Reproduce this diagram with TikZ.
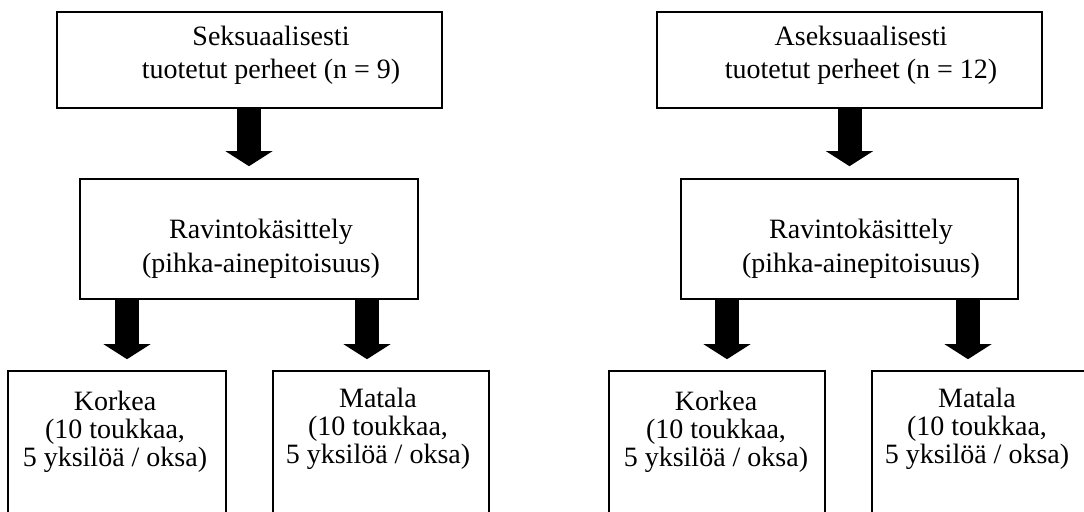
\documentclass[tikz,border=0pt]{standalone}
\usepackage{fontspec}
\setmainfont{Liberation Serif}
\usetikzlibrary{arrows.meta}

\begin{document}
\begin{tikzpicture}[x=0.5pt, y=-0.5pt,
	box/.style={draw, line width=0.8pt, inner sep=0pt},
	txt/.style={anchor=north, inner sep=0pt, align=center, font=\fontsize{14}{16.5}\selectfont},
	midtxt/.style={txt, font=\fontsize{14}{17}\selectfont},
	lowtxt/.style={txt, font=\fontsize{14}{14}\selectfont},
	bigarrow/.style={line width=12pt, -{Triangle[width=23.5pt, length=7.5pt, line width=0pt]}}]

	\useasboundingbox (0,0) rectangle (1084,512);
	\clip (0,0) rectangle (1084,512);

	% families
	\node[box, minimum width=192.5pt, minimum height=48pt] (sex) at (249.5,60) {};
	\node[box, minimum width=192.5pt, minimum height=48pt] (asex) at (849.5,60) {};
	\node[txt] (sexT) at (271,25) {\rule{0pt}{10pt}Seksuaalisesti\\tuotetut perheet (n = 9)};
	\node[txt] (asexT) at (861,25) {\rule{0pt}{10pt}Aseksuaalisesti\\tuotetut perheet (n = 12)};

	% diet treatment
	\node[box, minimum width=169pt, minimum height=60pt] (rav1) at (249,239) {};
	\node[box, minimum width=168.5pt, minimum height=60pt] (rav2) at (849.5,239) {};
	\node[midtxt] (rav1T) at (261,218) {\rule{0pt}{10pt}Ravintokäsittely\\(pihka-ainepitoisuus)};
	\node[midtxt] (rav2T) at (861,218) {\rule{0pt}{10pt}Ravintokäsittely\\(pihka-ainepitoisuus)};

	% high / low
	\node[box, minimum width=109pt, minimum height=94.5pt] (kor1) at (117,465.5) {};
	\node[box, minimum width=108pt, minimum height=94.5pt] (mat1) at (381,465.5) {};
	\node[box, minimum width=108pt, minimum height=94.5pt] (kor2) at (717,465.5) {};
	\node[box, minimum width=109pt, minimum height=94.5pt] (mat2) at (981,465.5) {};
	\node[lowtxt] (kor1T) at (115,390) {\rule{0pt}{10pt}Korkea\\(10 toukkaa,\\5 yksilöä / oksa)};
	\node[lowtxt] (mat1T) at (378,387) {\rule{0pt}{10pt}Matala\\(10 toukkaa,\\5 yksilöä / oksa)};
	\node[lowtxt] (kor2T) at (716,390) {\rule{0pt}{10pt}Korkea\\(10 toukkaa,\\5 yksilöä / oksa)};
	\node[lowtxt] (mat2T) at (977,387) {\rule{0pt}{10pt}Matala\\(10 toukkaa,\\5 yksilöä / oksa)};

	\draw[bigarrow, shorten >=6pt] (sex.south -| rav1) -- (rav1.north);
	\draw[bigarrow, shorten >=6pt] (asex.south -| rav2) -- (rav2.north);
	\draw[bigarrow, shorten >=5.5pt] ([xshift=5pt]kor1.north |- rav1.south) -- ([xshift=5pt]kor1.north);
	\draw[bigarrow, shorten >=5.5pt] ([xshift=-7pt]mat1.north |- rav1.south) -- ([xshift=-7pt]mat1.north);
	\draw[bigarrow, shorten >=5.5pt] ([xshift=5pt]kor2.north |- rav2.south) -- ([xshift=5pt]kor2.north);
	\draw[bigarrow, shorten >=5.5pt] ([xshift=-6.5pt]mat2.north |- rav2.south) -- ([xshift=-6.5pt]mat2.north);
\end{tikzpicture}
\end{document}
